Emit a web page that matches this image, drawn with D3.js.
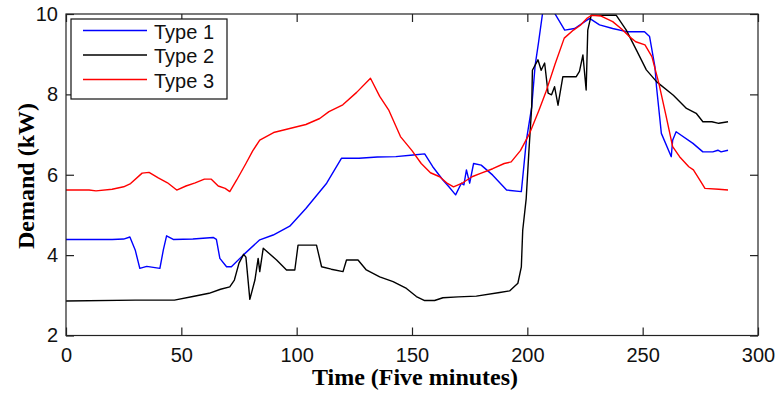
<!DOCTYPE html>
<html>
<head>
<meta charset="utf-8">
<script src="https://cdn.jsdelivr.net/npm/d3@7"></script>
<style>
  body { margin: 0; background: #fff; }
  svg { display: block; }
</style>
</head>
<body>
<svg id="chart" width="777" height="395"></svg>
<script>
// time in five-minute steps, demand in kW
const type1T = [0, 10, 20, 25, 27.7, 30, 32, 35, 40.7, 42.2, 43.6, 46.5, 55, 63.8, 65.2, 66.7, 69.6, 71.7, 76.8, 84, 89.8, 97, 104, 113, 119.4, 127, 135, 143, 150.5, 155.5, 159, 163.4, 166, 168.9, 171.4, 172.5, 173.6, 175, 176.7, 180, 185, 191, 197.4, 199.6, 201.9, 203.4, 204.8, 206.8, 209, 211, 216.2, 220.5, 227, 231.3, 237, 243, 250.8, 253, 255.3, 256, 258.1, 262.4, 263, 264.5, 271.8, 276.1, 280.4, 282.6, 284, 287]
const type1V = [4.39, 4.39, 4.39, 4.40, 4.45, 4.13, 3.67, 3.72, 3.67, 4.13, 4.48, 4.39, 4.40, 4.44, 4.39, 3.92, 3.71, 3.71, 4.0, 4.38, 4.50, 4.72, 5.16, 5.79, 6.41, 6.41, 6.44, 6.45, 6.49, 6.52, 6.20, 5.87, 5.70, 5.50, 5.79, 5.75, 6.12, 5.79, 6.28, 6.24, 5.99, 5.62, 5.58, 6.86, 7.69, 8.73, 9.27, 10.1, 10.2, 10.1, 9.60, 9.64, 9.89, 9.73, 9.64, 9.56, 9.56, 9.44, 8.69, 8.19, 7.03, 6.45, 6.86, 7.07, 6.78, 6.57, 6.57, 6.61, 6.57, 6.61]

const type2T = [0, 30, 47, 55, 62, 67, 71, 73, 75, 77, 78, 79.7, 81.9, 83.3, 84, 85.5, 91.3, 95.6, 99.2, 100.6, 108.6, 110.8, 115, 120.1, 121.6, 126.6, 130.2, 136, 141.8, 147.6, 151.9, 155.5, 159.8, 163.4, 170, 177.9, 188, 192.3, 195.9, 197.4, 198, 199.5, 200.7, 201.9, 202.2, 204.6, 206, 207.5, 209, 210.5, 211.8, 213.3, 215.4, 221.2, 222.6, 224.1, 225.5, 226.2, 227.7, 238.5, 242.9, 247.3, 251.6, 256.1, 263.3, 269, 273.2, 276.1, 280, 283, 287]
const type2V = [2.86, 2.88, 2.88, 2.97, 3.05, 3.15, 3.21, 3.38, 3.80, 4.02, 3.95, 2.90, 3.38, 3.92, 3.59, 4.17, 3.88, 3.63, 3.63, 4.25, 4.25, 3.71, 3.65, 3.59, 3.88, 3.88, 3.63, 3.46, 3.34, 3.17, 2.97, 2.87, 2.87, 2.94, 2.96, 2.98, 3.07, 3.11, 3.30, 3.71, 4.62, 5.4, 6.6, 7.7, 8.6, 8.86, 8.6, 8.78, 8.03, 7.99, 8.19, 7.73, 8.44, 8.44, 8.57, 8.98, 8.11, 9.60, 9.97, 9.97, 9.60, 9.10, 8.61, 8.31, 7.98, 7.65, 7.53, 7.32, 7.32, 7.28, 7.32]

const type3T = [0, 10, 13, 20, 25, 28, 33, 36, 40, 44, 48, 52, 56, 60, 63, 66, 69, 71, 74, 78, 81, 84, 90, 97, 104, 110, 114, 120, 126, 132, 136, 140, 145, 150, 154, 158, 162, 165, 168, 172, 176, 180, 185, 190, 193, 197, 201, 205, 208, 212, 216, 220, 223, 226, 228, 232, 237, 241, 244, 247, 251, 254, 257, 260, 263, 266, 270, 272, 275, 277, 283, 287]
const type3V = [5.62, 5.62, 5.60, 5.64, 5.70, 5.78, 6.04, 6.06, 5.92, 5.80, 5.62, 5.72, 5.80, 5.89, 5.89, 5.72, 5.66, 5.58, 5.87, 6.28, 6.60, 6.86, 7.05, 7.15, 7.25, 7.40, 7.57, 7.74, 8.05, 8.40, 7.95, 7.60, 6.95, 6.60, 6.28, 6.05, 5.95, 5.80, 5.70, 5.80, 5.95, 6.04, 6.15, 6.28, 6.32, 6.60, 7.03, 7.60, 8.05, 8.75, 9.40, 9.60, 9.72, 9.90, 9.97, 9.95, 9.81, 9.62, 9.45, 9.31, 9.23, 8.94, 8.28, 7.50, 6.70, 6.45, 6.20, 6.12, 5.85, 5.66, 5.64, 5.62]

const seriesNames = ['Type 1', 'Type 2', 'Type 3']
const seriesColors = ['#0000ff', '#000000', '#ff0000']
const xTicks = [0, 50, 100, 150, 200, 250, 300]
const yTicks = [2, 4, 6, 8, 10]

const series = [
  type1T.map((t, i) => [t, type1V[i]]),
  type2T.map((t, i) => [t, type2V[i]]),
  type3T.map((t, i) => [t, type3V[i]])
]

const svg = d3.select('#chart')
const plotLeft = 66, plotRight = 758, plotTop = 14, plotBottom = 335.5
const width = plotRight - plotLeft
const height = plotBottom - plotTop

const xScale = d3.scaleLinear().domain([0, 300]).range([0, width])
const yScale = d3.scaleLinear().domain([2, 10]).range([height, 0])

const g = svg.append('g').attr('transform', `translate(${plotLeft}, ${plotTop})`)

g.append('clipPath').attr('id', 'clip')
  .append('rect').attr('width', width).attr('height', height)

const tickFont = '"Liberation Sans", Arial, sans-serif'
const labelFont = '"Liberation Serif", "Times New Roman", serif'

// axes, MATLAB style: ticks point inwards on all four sides
const xAxis = g.append('g')
  .attr('transform', 'translate(0,' + height + ')')
  .call(d3.axisBottom(xScale).tickValues(xTicks).tickSize(-8).tickPadding(12))
const xTop = g.append('g')
  .call(d3.axisTop(xScale).tickValues(xTicks).tickSize(-8).tickFormat(''))
const yAxis = g.append('g')
  .call(d3.axisLeft(yScale).tickValues(yTicks).tickSize(-8).tickPadding(8))
const yRight = g.append('g')
  .attr('transform', 'translate(' + width + ',0)')
  .call(d3.axisRight(yScale).tickValues(yTicks).tickSize(-8).tickFormat(''))

;[xAxis, xTop, yAxis, yRight].forEach(a => {
  a.select('.domain').remove()
  a.selectAll('line').attr('stroke', '#222').attr('stroke-width', 1.2)
  a.selectAll('text').attr('fill', '#111').style('font-family', tickFont).style('font-size', '20px')
})

const line = d3.line()
  .x(d => xScale(d[0]))
  .y(d => yScale(d[1]))

g.append('g').attr('clip-path', 'url(#clip)')
  .selectAll('path')
  .data(series)
  .enter().append('path')
  .attr('d', line)
  .attr('fill', 'none')
  .attr('stroke', (d, i) => seriesColors[i])
  .attr('stroke-width', 1.4)
  .attr('stroke-linejoin', 'round')

g.append('rect')
  .attr('width', width).attr('height', height)
  .attr('fill', 'none').attr('stroke', '#222').attr('stroke-width', 1.2)

// legend
const legend = svg.append('g').attr('transform', 'translate(71, 19)')
legend.append('rect')
  .attr('width', 156).attr('height', 80)
  .attr('fill', '#fff').attr('stroke', '#111').attr('stroke-width', 1.2)

const items = legend.selectAll('.item')
  .data(seriesNames)
  .enter().append('g')
  .attr('class', 'item')
  .attr('transform', (d, i) => `translate(0, ${11.5 + i * 24.5})`)

items.append('line')
  .attr('x1', 12).attr('x2', 76)
  .attr('stroke', (d, i) => seriesColors[i]).attr('stroke-width', 1.3)

items.append('text')
  .attr('x', 83).attr('y', 8)
  .style('font-family', tickFont).style('font-size', '20px')
  .attr('fill', '#111')
  .text(d => d)

// axis labels
svg.append('text')
  .attr('x', 415).attr('y', 385)
  .attr('text-anchor', 'middle')
  .style('font-family', labelFont)
  .style('font-weight', 'bold').style('font-size', '24px')
  .text('Time (Five minutes)')

svg.append('text')
  .attr('transform', 'translate(34, 176) rotate(-90)')
  .attr('text-anchor', 'middle')
  .style('font-family', labelFont)
  .style('font-weight', 'bold').style('font-size', '24px')
  .text('Demand (kW)')
</script>
</body>
</html>
